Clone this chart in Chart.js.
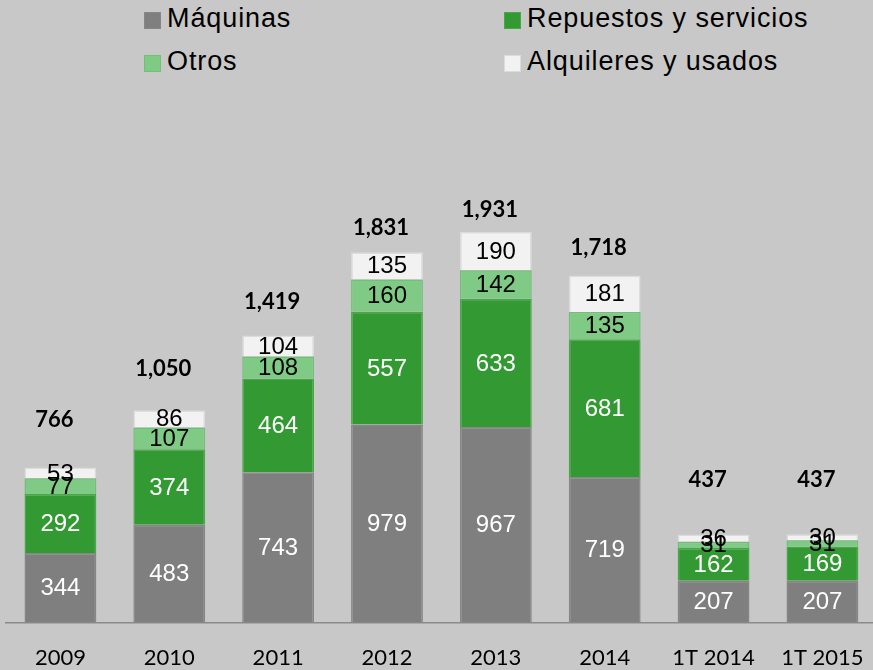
<!DOCTYPE html>
<html>
<head>
<meta charset="utf-8">
<script src="https://cdn.jsdelivr.net/npm/chart.js@4.4.1/dist/chart.umd.min.js"></script>
<style>
    body { margin: 0; background: #c8c8c8; overflow: hidden; width: 873px; height: 670px; position: relative; }
    #chart { position: absolute; left: 0; top: 0; }
    .legend-item { position: absolute; display: flex; align-items: flex-start; font-family: "Liberation Sans", Arial, sans-serif; font-size: 27px; line-height: 27px; letter-spacing: 0.9px; color: #000; }
    .legend-box { width: 15px; height: 15px; margin-top: 7px; margin-right: 6px; border: 1px solid; }
</style>
</head>
<body>
<div id="legend"></div>
<canvas id="chart" width="886" height="693"></canvas>
<script>
const categories = ["2009", "2010", "2011", "2012", "2013", "2014", "1T 2014", "1T 2015"];
const maquinas = [344, 483, 743, 979, 967, 719, 207, 207];
const repuestos = [292, 374, 464, 557, 633, 681, 162, 169];
const otros = [77, 107, 108, 160, 142, 135, 31, 31];
const alquileres = [53, 86, 104, 135, 190, 181, 36, 30];
const totals = [766, 1050, 1419, 1831, 1931, 1718, 437, 437];

const seriesNames = ["Máquinas", "Repuestos y servicios", "Otros", "Alquileres y usados"];
const seriesColors = ["#7f7f7f", "#339933", "#7fca84", "#f2f2f2"];
const seriesBorders = ["#868686", "#47a847", "#72bf77", "#dcdcdc"];
const labelColors = ["#ffffff", "#ffffff", "#000000", "#000000"];

// leyenda en dos columnas
const legendPos = [[144, 5], [504, 5], [144, 48], [504, 48]];
const legendDiv = document.getElementById("legend");
seriesNames.forEach((name, s) => {
    const item = document.createElement("div");
    item.className = "legend-item";
    item.style.left = legendPos[s][0] + "px";
    item.style.top = legendPos[s][1] + "px";
    item.innerHTML = `<span class="legend-box" style="background:${seriesColors[s]};border-color:${seriesBorders[s]}"></span><span>${name}</span>`;
    legendDiv.appendChild(item);
});

const segmentLabels = {
    id: "segmentLabels",
    afterDatasetsDraw(chart) {
        const ctx = chart.ctx;
        ctx.save();
        ctx.textAlign = "center";
        ctx.textBaseline = "middle";
        for (let d = 0; d < 4; d++) {
            const meta = chart.getDatasetMeta(d);
            ctx.fillStyle = labelColors[d];
            ctx.font = '24px "Liberation Sans", Arial, sans-serif';
            meta.data.forEach((bar, i) => {
                const y = (bar.y + bar.base) / 2;
                ctx.fillText(chart.data.datasets[d].data[i], bar.x, y + 1);
            });
        }
        // totales
        const tMeta = chart.getDatasetMeta(4);
        ctx.fillStyle = "#000";
        ctx.font = 'bold 22px Lato, "Open Sans", sans-serif';
        tMeta.data.forEach((pt, i) => {
            ctx.fillText(totals[i].toLocaleString("en-US"), pt.x - 6, pt.y);
        });
        ctx.restore();
    }
};

const barDataset = (k, data) => ({
    type: "bar",
    label: seriesNames[k],
    data: data,
    backgroundColor: seriesColors[k],
    borderColor: seriesBorders[k],
    borderWidth: 1.5,
    stack: "s",
    yAxisID: "y",
    barPercentage: 0.66,
    categoryPercentage: 1
});

new Chart(document.getElementById("chart"), {
    data: {
        labels: categories,
        datasets: [
            barDataset(0, maquinas),
            barDataset(1, repuestos),
            barDataset(2, otros),
            barDataset(3, alquileres),
            {
                type: "line",
                label: "Total",
                data: totals,
                yAxisID: "y2",
                showLine: false,
                pointRadius: 0,
                borderColor: "transparent"
            }
        ]
    },
    options: {
        responsive: false,
        animation: false,
        devicePixelRatio: 1,
        layout: { padding: { left: 6, right: 6, top: 137, bottom: 0 } },
        plugins: {
            legend: { display: false },
            tooltip: { enabled: false }
        },
        scales: {
            x: {
                stacked: true,
                grid: { display: false, drawTicks: false },
                border: { display: true, color: "#8a8a8a", width: 1.5 },
                ticks: {
                    color: "#000",
                    padding: 22,
                    font: { family: 'Lato, "Open Sans", sans-serif', size: 22 }
                }
            },
            y: {
                stacked: true,
                display: false,
                min: 0,
                max: 2400
            },
            y2: {
                display: false,
                min: -355,
                max: 2335
            }
        }
    },
    plugins: [segmentLabels]
});
</script>
</body>
</html>
